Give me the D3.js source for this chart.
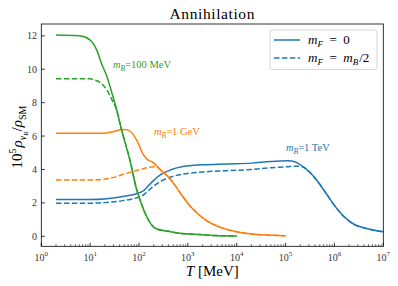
<!DOCTYPE html>
<html>
<head>
<meta charset="utf-8">
<script src="https://cdn.jsdelivr.net/npm/d3@7"></script>
<style>
  body { margin: 0; background: #fff; }
  svg text { font-family: "Liberation Serif", "DejaVu Serif", serif; fill: #000; }
</style>
</head>
<body>
<svg id="chart" width="398" height="286"></svg>
<script>
// temperatures in MeV, values are 10^5 rho_nuR / rho_SM
var greenT      = [2, 6, 10, 13.6, 17, 22, 28, 35, 44, 65, 90, 105, 144, 196, 230, 430, 690, 1770, 3300, 10000];
var greenSolid  = [12.05, 12.0, 11.75, 11.16, 10.36, 9.56, 8.56, 7.56, 6.37, 4.57, 2.77, 2.17, 1.17, 0.57, 0.44, 0.28, 0.18, 0.10, 0.05, 0.02];
var greenDashT  = [2, 10, 12, 17, 22, 28, 33, 44, 65, 90, 105, 144, 196, 230, 430, 690, 1770, 3300, 10000];
var greenDash   = [9.43, 9.43, 9.37, 9.16, 8.76, 8.17, 7.75, 6.37, 4.57, 2.77, 2.17, 1.17, 0.57, 0.44, 0.28, 0.18, 0.10, 0.05, 0.02];

var orangeT     = [2, 10, 18.6, 28, 47, 58, 76, 95, 117, 145, 186, 224, 295, 400, 560, 800, 1120, 1600, 2500, 4500, 8900, 20000, 45000, 100000];
var orangeSolid = [6.17, 6.17, 6.17, 6.25, 6.40, 6.37, 6.1, 5.6, 5.0, 4.62, 4.45, 4.25, 3.9, 3.55, 3.0, 2.35, 1.8, 1.35, 0.9, 0.55, 0.3, 0.14, 0.07, 0.03];
var orangeDash  = [3.37, 3.37, 3.42, 3.5, 3.7, 3.78, 3.88, 3.96, 4.03, 4.1, 4.16, 4.15, 3.88, 3.55, 3.0, 2.35, 1.8, 1.35, 0.9, 0.55, 0.3, 0.14, 0.07, 0.03];

var blueT       = [2, 10, 22, 50, 89, 126, 158, 200, 282, 447, 794, 2000, 6300, 20000, 50000, 110000, 160000, 220000, 320000, 450000, 700000, 1000000, 1600000, 2500000, 4500000, 10000000];
var blueSolid   = [2.2, 2.2, 2.25, 2.4, 2.55, 2.75, 3.05, 3.35, 3.7, 3.98, 4.18, 4.28, 4.33, 4.38, 4.48, 4.52, 4.45, 4.2, 3.8, 3.3, 2.5, 1.85, 1.15, 0.72, 0.47, 0.27];
var blueDash    = [1.98, 1.98, 2.03, 2.15, 2.3, 2.5, 2.75, 3.0, 3.3, 3.55, 3.72, 3.85, 3.93, 4.0, 4.1, 4.17, 4.2, 4.17, 3.8, 3.3, 2.5, 1.85, 1.15, 0.72, 0.47, 0.27];

var yTicks = [0, 2, 4, 6, 8, 10, 12];
var xDecades = [0, 1, 2, 3, 4, 5, 6, 7];

var colors = {blue: '#1f77b4', orange: '#ff7f0e', green: '#2ca02c'};

var svg = d3.select('#chart');
var xscale = d3.scaleLog().domain([1, 1e7]).range([41.3, 383.3]);
var yscale = d3.scaleLinear().domain([-0.6, 12.71]).range([246.3, 24]);

var line = d3.line()
  .x(function(d) { return xscale(d[0]); })
  .y(function(d) { return yscale(d[1]); })
  .curve(d3.curveMonotoneX);

var series = [
  {t: blueT, v: blueSolid, c: colors.blue, dash: null},
  {t: blueT, v: blueDash, c: colors.blue, dash: '5.5,2.4'},
  {t: orangeT, v: orangeSolid, c: colors.orange, dash: null},
  {t: orangeT, v: orangeDash, c: colors.orange, dash: '5.5,2.4'},
  {t: greenT, v: greenSolid, c: colors.green, dash: null},
  {t: greenDashT, v: greenDash, c: colors.green, dash: '5.5,2.4'}
];

svg.append('clipPath').attr('id', 'plotclip')
  .append('rect').attr('x', 41.3).attr('y', 24).attr('width', 342).attr('height', 222.3);

svg.append('g').attr('clip-path', 'url(#plotclip)')
  .selectAll('path').data(series).enter().append('path')
  .attr('d', function(s) { return line(s.t.map(function(t, i) { return [t, s.v[i]]; })); })
  .style('fill', 'none')
  .style('stroke', function(s) { return s.c; })
  .style('stroke-width', 1.5)
  .style('stroke-dasharray', function(s) { return s.dash; });

// frame
svg.append('rect').attr('x', 41.3).attr('y', 24).attr('width', 342).attr('height', 222.3)
  .style('fill', 'none').style('stroke', '#000').style('stroke-width', 0.8);

// x ticks (inward, with minor)
var xt = svg.append('g');
xDecades.forEach(function(k) {
  var T = Math.pow(10, k);
  xt.append('line').attr('x1', xscale(T)).attr('x2', xscale(T))
    .attr('y1', 246.3).attr('y2', 242.8).style('stroke', '#000').style('stroke-width', 0.8);
  var lbl = xt.append('text').attr('x', xscale(T)).attr('y', 260.5)
    .attr('text-anchor', 'middle').style('font-size', '10px').style('fill', '#333');
  lbl.append('tspan').text('10');
  lbl.append('tspan').attr('dy', -4.5).style('font-size', '7px').text(k);
  if (k < 7) {
    for (var m = 2; m <= 9; m++) {
      xt.append('line').attr('x1', xscale(m * T)).attr('x2', xscale(m * T))
        .attr('y1', 246.3).attr('y2', 244.3).style('stroke', '#000').style('stroke-width', 0.6);
    }
  }
});

// y ticks
var yt = svg.append('g');
yTicks.forEach(function(v) {
  yt.append('line').attr('x1', 41.3).attr('x2', 44.8)
    .attr('y1', yscale(v)).attr('y2', yscale(v)).style('stroke', '#000').style('stroke-width', 0.8);
  yt.append('text').attr('x', 37).attr('y', yscale(v) + 3.5)
    .attr('text-anchor', 'end').style('font-size', '10px').style('fill', '#333').text(v);
});

// title and axis labels
svg.append('text').attr('x', 212.3).attr('y', 18.5).attr('text-anchor', 'middle')
  .style('font-size', '15.5px').style('letter-spacing', '0.6px').text('Annihilation');

var xl = svg.append('text').attr('x', 212.3).attr('y', 276).attr('text-anchor', 'middle')
  .style('font-size', '15px');
xl.append('tspan').style('font-style', 'italic').text('T');
xl.append('tspan').text(' [MeV]');

var yl = svg.append('text').attr('transform', 'translate(22,137) rotate(-90)')
  .attr('text-anchor', 'middle').style('font-size', '15px');
yl.append('tspan').text('10');
yl.append('tspan').attr('dy', -6).style('font-size', '10px').text('5');
yl.append('tspan').attr('dy', 6).attr('dx', 1).style('font-style', 'italic').text('ρ');
yl.append('tspan').attr('dy', 3.5).style('font-size', '10px').style('font-style', 'italic').text('ν');
yl.append('tspan').attr('dy', 2).style('font-size', '7px').style('font-style', 'italic').text('R');
yl.append('tspan').attr('dy', -5.5).text('/');
yl.append('tspan').style('font-style', 'italic').text('ρ');
yl.append('tspan').attr('dy', 3.5).style('font-size', '10px').text('SM');

// annotations
function massLabel(x, y, color, rest) {
  var t = svg.append('text').attr('x', x).attr('y', y)
    .style('font-size', '10.5px').style('fill', color);
  t.append('tspan').style('font-style', 'italic').text('m');
  t.append('tspan').attr('dy', 2.5).style('font-size', '7.5px').style('font-style', 'italic').text('B');
  t.append('tspan').attr('dy', -2.5).text(rest);
}
massLabel(113, 68, colors.green, '=100 MeV');
massLabel(154, 135, colors.orange, '=1 GeV');
massLabel(286, 151, colors.blue, '=1 TeV');

// legend
var lg = svg.append('g');
lg.append('rect').attr('x', 270).attr('y', 30).attr('width', 107).attr('height', 39.5)
  .attr('rx', 2).style('fill', '#fff').style('stroke', '#ccc').style('stroke-width', 0.8);
var entries = [
  {dash: null, y: 40, sub2: null},
  {dash: '5.5,2.4', y: 58, sub2: 'B'}
];
entries.forEach(function(e) {
  lg.append('line').attr('x1', 274).attr('x2', 300).attr('y1', e.y).attr('y2', e.y)
    .style('stroke', colors.blue).style('stroke-width', 1.5).style('stroke-dasharray', e.dash);
  var t = lg.append('text').attr('x', 308).attr('y', e.y + 4).style('font-size', '13px');
  t.append('tspan').style('font-style', 'italic').text('m');
  t.append('tspan').attr('dy', 2.5).style('font-size', '9px').style('font-style', 'italic').text('F');
  if (e.sub2) {
    t.append('tspan').attr('dy', -2.5).text('\u2002=\u2002');
    t.append('tspan').style('font-style', 'italic').text('m');
    t.append('tspan').attr('dy', 2.5).style('font-size', '9px').style('font-style', 'italic').text('B');
    t.append('tspan').attr('dy', -2.5).attr('dx', 1).text('/2');
  } else {
    t.append('tspan').attr('dy', -2.5).text('\u2002=\u20020');
  }
});
</script>
</body>
</html>
